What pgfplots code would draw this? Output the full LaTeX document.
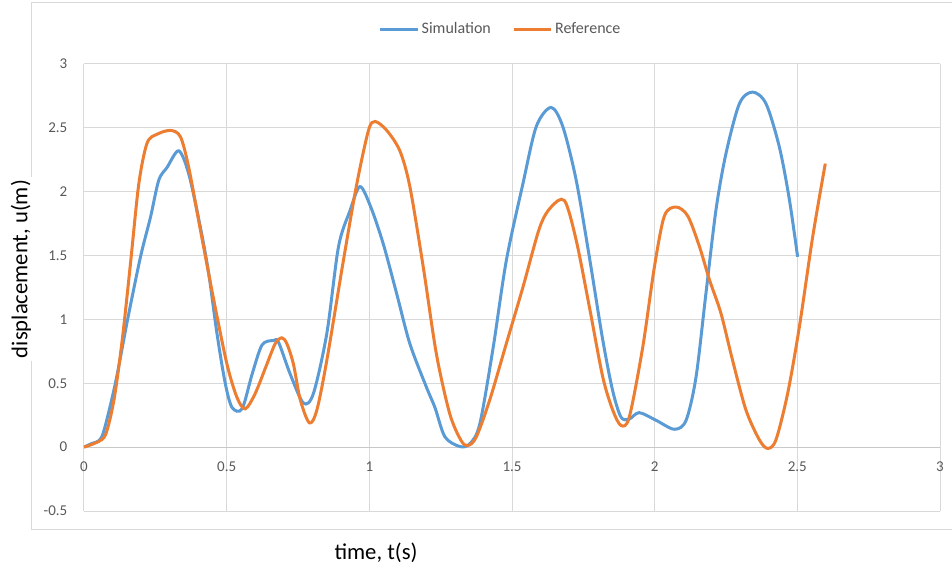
\documentclass[border=0pt]{standalone}
\usepackage{fontspec}
\setmainfont{Carlito}
\usepackage{pgfplots}
\pgfplotsset{compat=1.18}
\definecolor{simblue}{HTML}{5B9BD5}
\definecolor{reforange}{HTML}{ED7D31}
\definecolor{gridgray}{HTML}{D9D9D9}
\definecolor{axgray}{HTML}{C8C8C8}
\definecolor{txtgray}{HTML}{595959}
\begin{document}
\begin{tikzpicture}
\begin{axis}[
 scale only axis,
 width=642pt, height=335.25pt,
 xmin=0, xmax=3, ymin=-0.5, ymax=3,
 xtick={0,0.5,1,1.5,2,2.5,3},
 xticklabels={0,0.5,1,1.5,2,2.5,3},
 ytick={-0.5,0,0.5,1,1.5,2,2.5,3},
 yticklabels={-0.5,0,0.5,1,1.5,2,2.5,3},
 grid=major,
 major grid style={draw=gridgray, line width=0.75pt},
 axis line style={draw=none},
 major tick length=0pt,
 tick label style={font=\fontsize{11.25}{13}\selectfont, text=txtgray},
 xticklabel style={yshift=40.5pt},
 yticklabel style={xshift=-9pt},
 legend style={at={(axis description cs:0.487,1.078)}, anchor=center, draw=none,
   font=\fontsize{12}{14}\selectfont, text=txtgray,
   /tikz/every even column/.append style={column sep=14pt}},
 legend columns=2,
 legend image code/.code={\draw[#1, line width=2.25pt] (0pt,0pt) -- (28pt,0pt);},
]
\coordinate (O) at (rel axis cs:0,0);
\draw[axgray, line width=0.75pt] (axis cs:0,0) -- (axis cs:3,0);
\addplot[simblue, line width=2.25pt, smooth, tension=0.5] coordinates {
(0,0) (0.029,0.03) (0.052,0.05) (0.07,0.13) (0.11,0.5) (0.152,0.99) (0.198,1.49)
(0.233,1.8) (0.262,2.09) (0.291,2.19) (0.332,2.32) (0.367,2.14) (0.408,1.72)
(0.437,1.36) (0.466,0.89) (0.495,0.5) (0.519,0.31) (0.554,0.30) (0.589,0.57)
(0.624,0.80) (0.664,0.835) (0.682,0.82) (0.723,0.57) (0.769,0.345) (0.804,0.42)
(0.851,0.89) (0.892,1.57) (0.932,1.85) (0.967,2.04) (1.005,1.88) (1.049,1.59)
(1.096,1.2) (1.142,0.81) (1.2,0.47) (1.23,0.31) (1.265,0.08) (1.317,0.005)
(1.352,0.026) (1.387,0.18) (1.434,0.78) (1.48,1.46) (1.538,2.06) (1.585,2.51)
(1.637,2.66) (1.678,2.51) (1.725,2.09) (1.771,1.49) (1.818,0.84) (1.853,0.44)
(1.882,0.235) (1.911,0.22) (1.946,0.27) (2.005,0.21) (2.069,0.14) (2.11,0.21)
(2.145,0.55) (2.18,1.21) (2.215,1.86) (2.25,2.30) (2.297,2.69) (2.343,2.78)
(2.39,2.69) (2.437,2.35) (2.472,1.94) (2.501,1.49)
};
\addlegendentry{Simulation}
\addplot[reforange, line width=2.25pt, smooth, tension=0.5] coordinates {
(0,0) (0.047,0.04) (0.076,0.10) (0.105,0.37) (0.134,0.84) (0.163,1.44) (0.192,2.06)
(0.221,2.38) (0.256,2.45) (0.303,2.48) (0.338,2.43) (0.367,2.19) (0.408,1.70)
(0.455,1.15) (0.501,0.65) (0.536,0.39) (0.565,0.30) (0.600,0.42) (0.641,0.65)
(0.670,0.81) (0.693,0.856) (0.711,0.81) (0.734,0.65) (0.758,0.37) (0.79,0.19)
(0.816,0.29) (0.851,0.68) (0.909,1.46) (0.956,2.06) (0.997,2.48) (1.02,2.55)
(1.061,2.48) (1.107,2.32) (1.142,2.04) (1.189,1.41) (1.235,0.73) (1.282,0.26)
(1.322,0.05) (1.346,0.013) (1.375,0.08) (1.422,0.37) (1.48,0.81) (1.538,1.25)
(1.597,1.72) (1.637,1.88) (1.684,1.93) (1.725,1.62) (1.771,1.10) (1.818,0.55)
(1.853,0.29) (1.882,0.17) (1.911,0.235) (1.958,0.78) (1.999,1.41) (2.034,1.81)
(2.075,1.88) (2.116,1.81) (2.157,1.57) (2.192,1.31) (2.232,1.05) (2.273,0.68)
(2.32,0.29) (2.367,0.057) (2.396,-0.01) (2.425,0.057) (2.466,0.42) (2.507,0.94)
(2.554,1.65) (2.598,2.22)
};
\addlegendentry{Reference}
\end{axis}
\draw[gridgray, line width=0.75pt] ([shift={(-39pt,-13.5pt)}]O) rectangle ([shift={(660pt,381pt)}]O);
\node[rotate=90, fill=white, inner sep=2pt, font=\fontsize{17}{20}\selectfont, text=black] at ([shift={(-47.25pt,181.5pt)}]O) {displacement, u(m)};
\node[font=\fontsize{17}{20}\selectfont, text=black] at ([shift={(219pt,-31.5pt)}]O) {time, t(s)};
\pgfresetboundingbox
\path ([shift={(-63pt,-42pt)}]O) rectangle ([shift={(651pt,383.25pt)}]O);
\end{tikzpicture}
\end{document}
